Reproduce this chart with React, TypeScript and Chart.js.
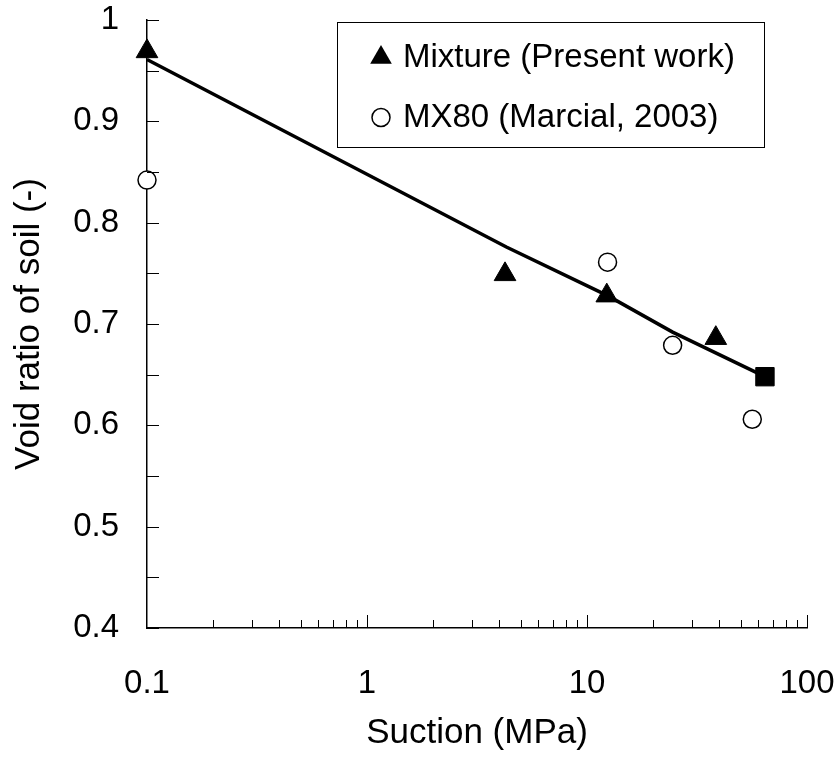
import React, { useEffect, useRef } from "react";
import { Chart, registerables } from "chart.js";

Chart.register(...registerables);

// ---- data ----
const mixtureSuction = [0.1, 4.24, 12.3, 38.5];
const mixtureVoid = [0.969, 0.749, 0.728, 0.686];

const mx80Suction = [0.1, 12.4, 24.5, 56.4];
const mx80Void = [0.842, 0.761, 0.679, 0.606];

const fitSuction = [0.1, 4.3, 12.4, 24.5, 64.4];
const fitVoid = [0.961, 0.776, 0.728, 0.692, 0.648];

const xTickValues = [0.1, 1, 10, 100];
const yTickValues = [0.4, 0.5, 0.6, 0.7, 0.8, 0.9, 1.0];
const yMinorStep = 0.05;

const legendLabels = ["Mixture (Present work)", "MX80 (Marcial, 2003)"];
const xTitle = "Suction (MPa)";
const yTitle = "Void ratio of soil (-)";

const FONT = "'Liberation Sans', Arial, sans-serif";

const inwardTicks = {
  id: "inwardTicks",
  afterDraw(chart: any) {
    const { ctx, chartArea: a, scales } = chart;
    const x = scales.x;
    const y = scales.y;
    ctx.save();
    ctx.strokeStyle = "#000";
    ctx.lineWidth = 1;
    ctx.beginPath();
    const yMin = yTickValues[0];
    const yMax = yTickValues[yTickValues.length - 1];
    const nY = Math.round((yMax - yMin) / yMinorStep);
    for (let i = 0; i <= nY; i++) {
      const v = yMin + i * yMinorStep;
      const py = Math.round(y.getPixelForValue(v)) + 0.5;
      ctx.moveTo(a.left, py);
      ctx.lineTo(a.left + 12, py);
    }
    for (let d = -1; d < 2; d++) {
      for (let m = 2; m <= 10; m++) {
        const v = m * Math.pow(10, d);
        const px = Math.round(x.getPixelForValue(v)) + 0.5;
        const len = m === 10 ? 13 : 8;
        ctx.moveTo(px, a.bottom);
        ctx.lineTo(px, a.bottom - len);
      }
    }
    ctx.stroke();
    ctx.restore();
  },
};

const boxedLegend = {
  id: "boxedLegend",
  afterDraw(chart: any) {
    const { ctx, chartArea: a } = chart;
    const left = a.left + 190;
    const top = a.top + 2.5;
    const w = 427;
    const h = 125;
    ctx.save();
    ctx.fillStyle = "#fff";
    ctx.fillRect(left, top, w, h);
    ctx.strokeStyle = "#000";
    ctx.lineWidth = 1;
    ctx.strokeRect(left + 0.5, top, w, h);

    const mx = left + 44;
    const rows = [top + 35, top + 95];
    // triangle marker
    const r = 12.5;
    ctx.fillStyle = "#000";
    ctx.beginPath();
    ctx.moveTo(mx, rows[0] - r);
    ctx.lineTo(mx + r * Math.sin((2 * Math.PI) / 3), rows[0] - r * Math.cos((2 * Math.PI) / 3));
    ctx.lineTo(mx + r * Math.sin((4 * Math.PI) / 3), rows[0] - r * Math.cos((4 * Math.PI) / 3));
    ctx.closePath();
    ctx.fill();
    // circle marker
    ctx.beginPath();
    ctx.arc(mx, rows[1], 9, 0, Math.PI * 2);
    ctx.fillStyle = "#fff";
    ctx.fill();
    ctx.lineWidth = 1.5;
    ctx.strokeStyle = "#000";
    ctx.stroke();

    ctx.fillStyle = "#000";
    ctx.font = `33px ${FONT}`;
    ctx.textBaseline = "middle";
    ctx.textAlign = "left";
    ctx.fillText(legendLabels[0], mx + 22, rows[0]);
    ctx.fillText(legendLabels[1], mx + 22, rows[1]);
    ctx.restore();
  },
};

const zeroPadding = (s: any) => {
  s.paddingTop = 0;
  s.paddingBottom = 0;
  s.paddingLeft = 0;
  s.paddingRight = 0;
};

export default function App() {
  const ref = useRef<HTMLCanvasElement | null>(null);

  useEffect(() => {
    if (!ref.current) return;
    const chart = new Chart(ref.current, {
      type: "scatter",
      data: {
        datasets: [
          {
            label: legendLabels[0],
            data: mixtureSuction.map((x, i) => ({ x, y: mixtureVoid[i] })),
            pointStyle: "triangle",
            pointRadius: 12.5,
            pointBackgroundColor: "#000",
            pointBorderColor: "#000",
            pointBorderWidth: 1,
            showLine: false,
            clip: false,
            order: 1,
          },
          {
            label: legendLabels[1],
            data: mx80Suction.map((x, i) => ({ x, y: mx80Void[i] })),
            pointStyle: "circle",
            pointRadius: 9,
            pointBackgroundColor: "#fff",
            pointBorderColor: "#000",
            pointBorderWidth: 1.5,
            showLine: false,
            clip: false,
            order: 0,
          },
          {
            label: "fit",
            data: fitSuction.map((x, i) => ({ x, y: fitVoid[i] })),
            showLine: true,
            borderColor: "#000",
            borderWidth: 3.5,
            tension: 0,
            pointStyle: "rect",
            pointRadius: fitSuction.map((_, i) => (i === fitSuction.length - 1 ? 13 : 0)),
            pointBackgroundColor: "#000",
            pointBorderColor: "#000",
            pointBorderWidth: 1,
            clip: false,
            order: 2,
          },
        ],
      },
      options: {
        animation: false,
        responsive: false,
        layout: { padding: { top: 20, right: 33, bottom: 0, left: 0 } },
        plugins: {
          legend: { display: false },
          tooltip: { enabled: false },
        },
        scales: {
          x: {
            type: "logarithmic",
            min: 0.1,
            max: 100,
            position: "bottom",
            grid: { display: false, drawTicks: false },
            border: { display: true, color: "#000", width: 1.5 },
            afterBuildTicks: (s: any) => {
              s.ticks = xTickValues.map((v) => ({ value: v }));
            },
            afterFit: (s: any) => {
              s.height = 132;
              zeroPadding(s);
            },
            ticks: {
              color: "#000",
              autoSkip: false,
              maxRotation: 0,
              padding: 36,
              font: { family: FONT, size: 33 },
              callback: (v: any) => String(v),
            },
            title: {
              display: true,
              text: xTitle,
              color: "#000",
              font: { family: FONT, size: 35 },
              padding: { top: 0, bottom: 6 },
            },
          },
          y: {
            min: yTickValues[0],
            max: yTickValues[yTickValues.length - 1],
            grid: { display: false, drawTicks: false },
            border: { display: true, color: "#000", width: 1.5 },
            afterBuildTicks: (s: any) => {
              s.ticks = yTickValues.map((v) => ({ value: v }));
            },
            afterFit: (s: any) => {
              s.width = 147;
              zeroPadding(s);
            },
            ticks: {
              color: "#000",
              padding: 28,
              font: { family: FONT, size: 33 },
              callback: (v: any) => String(Math.round(Number(v) * 10) / 10),
            },
            title: {
              display: true,
              text: yTitle,
              color: "#000",
              font: { family: FONT, size: 35 },
              padding: { top: 8, bottom: 0 },
            },
          },
        },
      },
      plugins: [inwardTicks, boxedLegend],
    });
    return () => chart.destroy();
  }, []);

  return (
    <div style={{ position: "absolute", left: 0, top: 0, width: 840, height: 760, background: "#fff" }}>
      <canvas ref={ref} width={840} height={760} style={{ display: "block" }} />
    </div>
  );
}
